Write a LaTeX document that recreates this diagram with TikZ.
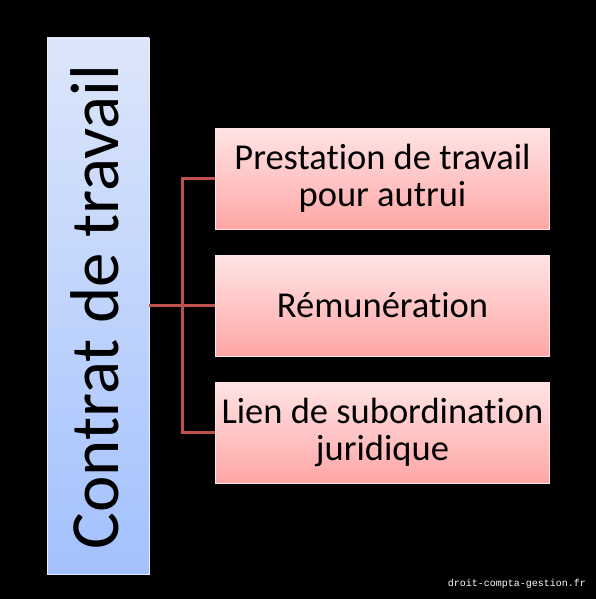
\documentclass[tikz,border=0pt]{standalone}
\usepackage{fontspec}
\setmainfont{Carlito}[Ligatures=NoCommon]
\setmonofont{Liberation Mono}
\definecolor{linkred}{HTML}{C0504D}
\definecolor{bluetop}{HTML}{DCE6FA}
\definecolor{bluebot}{HTML}{A3C1FE}
\definecolor{pinktop}{HTML}{FFE4E4}
\definecolor{pinkbot}{HTML}{FFA6A6}
\begin{document}
\begin{tikzpicture}[x=1pt,y=-1pt,
  mainbox/.style={rectangle, minimum width=102pt, minimum height=536pt, inner sep=0pt,
    top color=bluetop, bottom color=bluebot, draw=bluetop!70!white, line width=0.8pt},
  itembox/.style={rectangle, minimum width=334pt, minimum height=101pt, inner sep=0pt,
    top color=pinktop, bottom color=pinkbot, draw=pinktop, line width=0.8pt,
    align=center, font=\fontsize{36.5}{37}\selectfont, text=black},
  link/.style={draw=linkred, line width=3pt}]
\useasboundingbox[fill=black] (0,0) rectangle (596,599);
\node[mainbox] (main) at (98,306) {};
\node[rotate=90, anchor=base, inner sep=0pt, font=\fontsize{69}{69}\selectfont] (title) at (118,307) {Contrat de travail};
\node[itembox] (p1) at (382.5,178.5) {Prestation de travail\\pour autrui};
\node[itembox] (p2) at (382.5,305.5) {Rémunération};
\node[itembox] (p3) at (382.5,432.5) {Lien de subordination\\juridique};
\coordinate (j) at (182,305.5);
\draw[link] (main.east |- p2.west) -- (p2.west);
\draw[link] (p1.west) -| (j) |- (p3.west);
\node[font=\ttfamily\fontsize{10}{10}\selectfont, text=white, anchor=east, inner sep=0pt] (wm) at (586,584) {droit-compta-gestion.fr};
\end{tikzpicture}
\end{document}
